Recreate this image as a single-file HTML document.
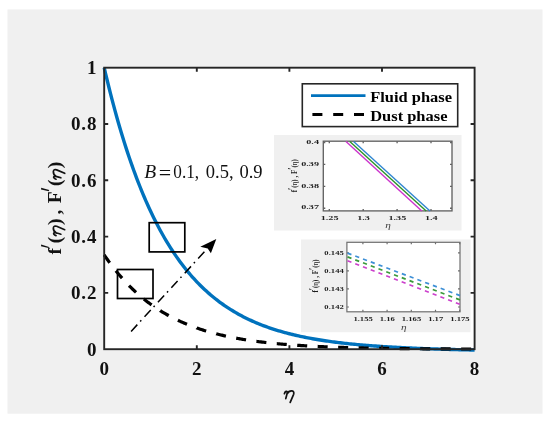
<!DOCTYPE html>
<html><head><meta charset="utf-8"><style>
html,body{margin:0;padding:0;background:#fff;width:550px;height:424px;overflow:hidden}
svg{display:block}
text{font-family:"Liberation Serif", serif;}
</style></head><body>
<svg width="550" height="424" viewBox="0 0 550 424">
<defs><filter id="bl" x="-10%" y="-10%" width="120%" height="120%"><feGaussianBlur stdDeviation="0.25"/></filter></defs>
<rect x="0" y="0" width="550" height="424" fill="#fff"/>
<rect x="7.5" y="9.4" width="535" height="404.3" fill="#f0f0f0"/>
<rect x="104.20" y="67.70" width="370.40" height="281.50" fill="#fff"/>
<!-- inset panels -->
<rect x="274" y="135" width="187.5" height="95.5" fill="#f0f0f0"/>
<rect x="323.3" y="141.2" width="128.7" height="69.7" fill="#fff"/>
<rect x="301" y="239.5" width="169.5" height="92.7" fill="#f0f0f0"/>
<rect x="346.9" y="242.3" width="113.1" height="69.5" fill="#fff"/>
<g stroke="#636363" stroke-width="1.35" fill="none">
<rect x="323.3" y="141.2" width="128.7" height="69.7"/>
<path d="M329.30,210.90 v-2 M329.30,141.20 v2 M363.20,210.90 v-2 M363.20,141.20 v2 M397.10,210.90 v-2 M397.10,141.20 v2 M431.00,210.90 v-2 M431.00,141.20 v2 M323.30,208.20 h2 M452.00,208.20 h-2 M323.30,186.30 h2 M452.00,186.30 h-2 M323.30,164.40 h2 M452.00,164.40 h-2 M323.30,142.50 h2 M452.00,142.50 h-2"/>
</g>
<g stroke="#6e6e6e" stroke-width="1.2" fill="none">
<rect x="346.9" y="242.3" width="113.1" height="69.5"/>
<path d="M362.90,311.80 v-2 M362.90,242.30 v2 M387.10,311.80 v-2 M387.10,242.30 v2 M411.30,311.80 v-2 M411.30,242.30 v2 M435.50,311.80 v-2 M435.50,242.30 v2 M459.70,311.80 v-2 M459.70,242.30 v2 M346.90,307.00 h2 M460.00,307.00 h-2 M346.90,288.93 h2 M460.00,288.93 h-2 M346.90,270.86 h2 M460.00,270.86 h-2 M346.90,252.79 h2 M460.00,252.79 h-2"/>
</g>
<g stroke-width="1.4" fill="none">
<path d="M346,141.5 L421.8,210.9" stroke="#cc33cc"/>
<path d="M349.8,141.5 L426.2,210.9" stroke="#2a922a"/>
<path d="M353.6,141.5 L430,210.9" stroke="#2f86d0"/>
</g>
<g stroke-width="1.7" fill="none" stroke-dasharray="4.2 4.1">
<path d="M347.5,253.1 L460,295.6" stroke="#3d8fd6"/>
<path d="M347.5,256.9 L460,299.9" stroke="#3a9a3a"/>
<path d="M347.5,260.7 L460,304.3" stroke="#cc40cc"/>
</g>
<g filter="url(#bl)">
<g font-weight="bold" font-size="6.8" fill="#1e1e1e">
<text transform="translate(329.60,219.50) scale(1.5,1.0)" text-anchor="middle">1.25</text><text transform="translate(363.50,219.50) scale(1.5,1.0)" text-anchor="middle">1.3</text><text transform="translate(397.40,219.50) scale(1.5,1.0)" text-anchor="middle">1.35</text><text transform="translate(431.30,219.50) scale(1.5,1.0)" text-anchor="middle">1.4</text><text transform="translate(319.00,209.40) scale(1.5,1.0)" text-anchor="end">0.37</text><text transform="translate(319.00,187.50) scale(1.5,1.0)" text-anchor="end">0.38</text><text transform="translate(319.00,165.60) scale(1.5,1.0)" text-anchor="end">0.39</text><text transform="translate(319.00,143.70) scale(1.5,1.0)" text-anchor="end">0.4</text>
<text transform="translate(363.10,321.20) scale(1.27,1.0)" text-anchor="middle">1.155</text><text transform="translate(387.30,321.20) scale(1.27,1.0)" text-anchor="middle">1.16</text><text transform="translate(411.50,321.20) scale(1.27,1.0)" text-anchor="middle">1.165</text><text transform="translate(435.70,321.20) scale(1.27,1.0)" text-anchor="middle">1.17</text><text transform="translate(459.90,321.20) scale(1.27,1.0)" text-anchor="middle">1.175</text><text transform="translate(343.80,309.20) scale(1.27,1.0)" text-anchor="end">0.142</text><text transform="translate(343.80,291.13) scale(1.27,1.0)" text-anchor="end">0.143</text><text transform="translate(343.80,273.06) scale(1.27,1.0)" text-anchor="end">0.144</text><text transform="translate(343.80,254.99) scale(1.27,1.0)" text-anchor="end">0.145</text>
</g>
<g font-style="italic" font-size="7.5" fill="#3a3a3a">
<text transform="translate(388.00,228.00) scale(1.5,1.0)" text-anchor="middle">&#951;</text>
<text transform="translate(403.80,329.50) scale(1.5,1.0)" text-anchor="middle">&#951;</text>
</g>
<g transform="translate(297.00,192.30) rotate(-90) scale(0.93,1.15)" font-size="7.6" font-weight="bold" fill="#1a1a1a"><text x="0" y="0">f<tspan dy="-2" font-size="8.36">&#8242;</tspan><tspan dy="2">(</tspan><tspan font-weight="normal">&#951;</tspan>) , F<tspan dy="-2" font-size="8.36">&#8242;</tspan><tspan dy="2">(</tspan><tspan font-weight="normal">&#951;</tspan>)</text></g>
<g transform="translate(318.20,292.60) rotate(-90) scale(0.93,1.15)" font-size="7.6" font-weight="bold" fill="#1a1a1a"><text x="0" y="0">f<tspan dy="-2" font-size="8.36">&#8242;</tspan><tspan dy="2">(</tspan><tspan font-weight="normal">&#951;</tspan>) , F<tspan dy="-2" font-size="8.36">&#8242;</tspan><tspan dy="2">(</tspan><tspan font-weight="normal">&#951;</tspan>)</text></g>
</g>
<!-- main curves -->
<path d="M104.20,67.70 L105.74,74.28 L107.29,80.70 L108.83,86.97 L110.37,93.10 L111.92,99.09 L113.46,104.94 L115.00,110.66 L116.55,116.24 L118.09,121.69 L119.63,127.02 L121.18,132.22 L122.72,137.30 L124.26,142.26 L125.81,147.11 L127.35,151.85 L128.89,156.48 L130.44,161.00 L131.98,165.41 L133.52,169.72 L135.07,173.94 L136.61,178.05 L138.15,182.07 L139.70,186.00 L141.24,189.83 L142.78,193.58 L144.33,197.23 L145.87,200.81 L147.41,204.30 L148.96,207.71 L150.50,211.04 L152.04,214.29 L153.59,217.46 L155.13,220.57 L156.67,223.60 L158.22,226.56 L159.76,229.45 L161.30,232.27 L162.85,235.03 L164.39,237.72 L165.93,240.36 L167.48,242.92 L169.02,245.43 L170.56,247.89 L172.11,250.28 L173.65,252.62 L175.19,254.90 L176.74,257.13 L178.28,259.31 L179.82,261.44 L181.37,263.52 L182.91,265.55 L184.45,267.53 L186.00,269.46 L187.54,271.35 L189.08,273.20 L190.63,275.00 L192.17,276.76 L193.71,278.48 L195.26,280.16 L196.80,281.81 L198.34,283.41 L199.89,284.97 L201.43,286.50 L202.97,287.99 L204.52,289.45 L206.06,290.87 L207.60,292.26 L209.15,293.62 L210.69,294.95 L212.23,296.24 L213.78,297.51 L215.32,298.74 L216.86,299.95 L218.41,301.13 L219.95,302.28 L221.49,303.40 L223.04,304.50 L224.58,305.57 L226.12,306.62 L227.67,307.64 L229.21,308.64 L230.75,309.61 L232.30,310.56 L233.84,311.49 L235.38,312.40 L236.93,313.29 L238.47,314.15 L240.01,315.00 L241.56,315.82 L243.10,316.63 L244.64,317.42 L246.19,318.19 L247.73,318.94 L249.27,319.67 L250.82,320.39 L252.36,321.09 L253.90,321.77 L255.45,322.44 L256.99,323.09 L258.53,323.73 L260.08,324.35 L261.62,324.96 L263.16,325.55 L264.71,326.13 L266.25,326.69 L267.79,327.25 L269.34,327.79 L270.88,328.31 L272.42,328.83 L273.97,329.33 L275.51,329.82 L277.05,330.30 L278.60,330.77 L280.14,331.23 L281.68,331.67 L283.23,332.11 L284.77,332.54 L286.31,332.95 L287.86,333.36 L289.40,333.76 L290.94,334.14 L292.49,334.52 L294.03,334.89 L295.57,335.26 L297.12,335.61 L298.66,335.95 L300.20,336.29 L301.75,336.62 L303.29,336.94 L304.83,337.26 L306.38,337.56 L307.92,337.86 L309.46,338.16 L311.01,338.44 L312.55,338.72 L314.09,339.00 L315.64,339.26 L317.18,339.52 L318.72,339.78 L320.27,340.03 L321.81,340.27 L323.35,340.51 L324.90,340.74 L326.44,340.97 L327.98,341.19 L329.53,341.41 L331.07,341.62 L332.61,341.83 L334.16,342.03 L335.70,342.23 L337.24,342.42 L338.79,342.61 L340.33,342.79 L341.87,342.97 L343.42,343.15 L344.96,343.32 L346.50,343.49 L348.05,343.66 L349.59,343.82 L351.13,343.98 L352.68,344.13 L354.22,344.28 L355.76,344.43 L357.31,344.57 L358.85,344.71 L360.39,344.85 L361.94,344.99 L363.48,345.12 L365.02,345.25 L366.57,345.37 L368.11,345.50 L369.65,345.62 L371.20,345.74 L372.74,345.85 L374.28,345.96 L375.83,346.07 L377.37,346.18 L378.91,346.29 L380.46,346.39 L382.00,346.49 L383.54,346.59 L385.09,346.69 L386.63,346.79 L388.17,346.88 L389.72,346.97 L391.26,347.06 L392.80,347.15 L394.35,347.24 L395.89,347.32 L397.43,347.40 L398.98,347.48 L400.52,347.56 L402.06,347.64 L403.61,347.72 L405.15,347.79 L406.69,347.86 L408.24,347.94 L409.78,348.01 L411.32,348.07 L412.87,348.14 L414.41,348.21 L415.95,348.27 L417.50,348.34 L419.04,348.40 L420.58,348.46 L422.13,348.52 L423.67,348.58 L425.21,348.64 L426.76,348.70 L428.30,348.75 L429.84,348.81 L431.39,348.86 L432.93,348.91 L434.47,348.97 L436.02,349.02 L437.56,349.07 L439.10,349.12 L440.65,349.17 L442.19,349.21 L443.73,349.26 L445.28,349.31 L446.82,349.35 L448.36,349.40 L449.91,349.44 L451.45,349.48 L452.99,349.53 L454.54,349.57 L456.08,349.61 L457.62,349.65 L459.17,349.69 L460.71,349.73 L462.25,349.77 L463.80,349.81 L465.34,349.85 L466.88,349.88 L468.43,349.92 L469.97,349.96 L471.51,349.99 L473.06,350.03 L474.60,350.06" fill="none" stroke="#0072bd" stroke-width="3.4"/>
<path d="M104.20,254.90 L104.22,254.93 L105.15,256.30 L106.08,257.65 L107.00,258.97 L107.93,260.28 L108.85,261.58 L109.72,262.76 M115.87,270.79 L115.89,270.81 L116.82,271.95 L117.74,273.08 L118.67,274.19 L119.59,275.29 L120.52,276.37 L121.45,277.43 L122.10,278.17 M129.04,285.60 L129.04,285.60 L129.97,286.54 L130.89,287.46 L131.82,288.36 L132.74,289.26 L133.67,290.14 L134.60,291.00 L135.52,291.86 L136.04,292.33 M143.81,299.00 L143.83,299.01 L144.76,299.75 L145.68,300.48 L146.61,301.20 L147.54,301.91 L148.46,302.61 L149.39,303.30 L150.31,303.98 L151.24,304.65 L151.60,304.91 M160.17,310.63 L160.18,310.64 L161.10,311.21 L162.03,311.78 L162.95,312.34 L163.88,312.88 L164.81,313.43 L165.73,313.96 L166.66,314.48 L167.58,315.00 L168.51,315.51 L168.67,315.60 M177.91,320.29 L177.93,320.30 L178.86,320.74 L179.78,321.16 L180.71,321.59 L181.64,322.00 L182.56,322.41 L183.49,322.81 L184.41,323.21 L185.34,323.60 L186.27,323.98 L186.98,324.28 M196.72,327.96 L196.73,327.97 L197.66,328.29 L198.58,328.60 L199.51,328.91 L200.43,329.22 L201.36,329.52 L202.29,329.82 L203.21,330.12 L204.14,330.41 L205.06,330.69 L205.99,330.97 L206.18,331.03 M216.25,333.82 L216.27,333.83 L217.20,334.06 L218.12,334.29 L219.05,334.52 L219.97,334.74 L220.90,334.96 L221.83,335.18 L222.75,335.40 L223.68,335.61 L224.60,335.82 L225.53,336.02 L225.95,336.11 M236.22,338.18 L236.22,338.18 L237.15,338.35 L238.08,338.52 L239.00,338.68 L239.93,338.84 L240.85,339.00 L241.78,339.16 L242.71,339.31 L243.63,339.47 L244.56,339.62 L245.48,339.77 L246.06,339.86 M256.44,341.36 L256.46,341.36 L257.38,341.48 L258.31,341.60 L259.24,341.72 L260.16,341.84 L261.09,341.95 L262.01,342.06 L262.94,342.17 L263.87,342.28 L264.79,342.39 L265.72,342.50 L266.36,342.57 M276.79,343.65 L276.81,343.65 L277.73,343.74 L278.66,343.82 L279.58,343.91 L280.51,343.99 L281.44,344.07 L282.36,344.15 L283.29,344.23 L284.21,344.31 L285.14,344.39 L286.07,344.46 L286.75,344.52 M297.22,345.29 L297.22,345.29 L298.15,345.35 L299.08,345.41 L300.00,345.47 L300.93,345.53 L301.85,345.59 L302.78,345.64 L303.71,345.70 L304.63,345.76 L305.56,345.81 L306.48,345.87 L307.20,345.91 M317.68,346.45 L317.69,346.45 L318.62,346.50 L319.54,346.54 L320.47,346.58 L321.39,346.62 L322.32,346.67 L323.25,346.71 L324.17,346.75 L325.10,346.79 L326.02,346.82 L326.95,346.86 L327.67,346.89 M338.16,347.28 L338.18,347.28 L339.10,347.31 L340.03,347.34 L340.96,347.37 L341.88,347.40 L342.81,347.43 L343.73,347.46 L344.66,347.48 L345.59,347.51 L346.51,347.54 L347.44,347.57 L348.16,347.59 M358.65,347.86 L358.66,347.86 L359.59,347.88 L360.52,347.90 L361.44,347.92 L362.37,347.94 L363.29,347.97 L364.22,347.99 L365.15,348.01 L366.07,348.02 L367.00,348.04 L367.92,348.06 L368.65,348.08 M379.15,348.27 L379.15,348.27 L380.08,348.28 L381.00,348.30 L381.93,348.31 L382.86,348.33 L383.78,348.34 L384.71,348.36 L385.63,348.37 L386.56,348.38 L387.49,348.40 L388.41,348.41 L389.15,348.42 M399.65,348.55 L399.66,348.55 L400.59,348.57 L401.52,348.58 L402.44,348.59 L403.37,348.60 L404.29,348.61 L405.22,348.62 L406.15,348.63 L407.07,348.64 L408.00,348.64 L408.92,348.65 L409.64,348.66 M420.14,348.75 L420.15,348.75 L421.08,348.76 L422.00,348.77 L422.93,348.78 L423.86,348.78 L424.78,348.79 L425.71,348.80 L426.63,348.80 L427.56,348.81 L428.49,348.82 L429.41,348.82 L430.14,348.83 M440.64,348.89 L440.66,348.89 L441.59,348.90 L442.51,348.90 L443.44,348.91 L444.37,348.91 L445.29,348.92 L446.22,348.92 L447.14,348.93 L448.07,348.93 L449.00,348.94 L449.92,348.94 L450.64,348.94 M461.14,348.99 L461.15,348.99 L462.08,348.99 L463.00,349.00 L463.93,349.00 L464.85,349.00 L465.78,349.01 L466.71,349.01 L467.63,349.01 L468.56,349.02 L469.48,349.02 L470.41,349.02 L471.14,349.02" fill="none" stroke="#000" stroke-width="3.2"/>
<!-- boxes -->
<g fill="none" stroke="#000" stroke-width="1.7">
<rect x="149.2" y="222.7" width="35.6" height="29.2"/>
<rect x="117.5" y="269.5" width="35.5" height="29"/>
</g>
<!-- arrow -->
<path d="M131.1,331.4 L204.47,251.74" stroke="#000" stroke-width="1.5" fill="none" stroke-dasharray="9.2 4.2 1.6 4.8"/>
<path d="M216.3,238.9 L200.3,246.8 L207.7,248.6 L210.9,253.3 Z" fill="#000"/>
<!-- axes -->
<g stroke="#262626" stroke-width="1.9" fill="none">
<rect x="104.20" y="67.70" width="370.40" height="281.50"/>
<path d="M196.80,349.20 v-4 M196.80,67.70 v4 M289.40,349.20 v-4 M289.40,67.70 v4 M382.00,349.20 v-4 M382.00,67.70 v4 M104.20,292.90 h4 M474.60,292.90 h-4 M104.20,236.60 h4 M474.60,236.60 h-4 M104.20,180.30 h4 M474.60,180.30 h-4 M104.20,124.00 h4 M474.60,124.00 h-4"/>
</g>
<!-- legend -->
<rect x="302.3" y="83.8" width="155.4" height="42.8" fill="#fff" stroke="#262626" stroke-width="1.6"/>
<path d="M311,95.7 H365.5" stroke="#0072bd" stroke-width="2.8"/>
<path d="M312.4,114.4 H322.4 M333.2,114.4 H343.2 M354,114.4 H364" stroke="#000" stroke-width="3"/>
<g font-weight="bold" font-size="14.2" fill="#000">
<text transform="translate(370.2,101.8) scale(1.16,1)">Fluid phase</text>
<text transform="translate(370.2,120.7) scale(1.16,1)">Dust phase</text>
</g>
<!-- tick labels -->
<g font-weight="bold" font-size="19" fill="#111" letter-spacing="0.9">
<text x="97.4" y="355.50" text-anchor="end">0</text><text x="97.4" y="299.20" text-anchor="end">0.2</text><text x="97.4" y="242.90" text-anchor="end">0.4</text><text x="97.4" y="186.60" text-anchor="end">0.6</text><text x="97.4" y="130.30" text-anchor="end">0.8</text><text x="97.4" y="74.00" text-anchor="end">1</text>
</g>
<g font-weight="bold" font-size="19" fill="#111">
<text x="104.20" y="374.5" text-anchor="middle">0</text><text x="196.80" y="374.5" text-anchor="middle">2</text><text x="289.40" y="374.5" text-anchor="middle">4</text><text x="382.00" y="374.5" text-anchor="middle">6</text><text x="474.60" y="374.5" text-anchor="middle">8</text>
</g>
<path transform="translate(284.40,398.30)  scale(0.92,0.94)" d="M0,-4.9 C0.6,-7 2.2,-8.2 3,-6.9 C3.3,-6 2.3,-2.4 1.5,0.3 M2.8,-4.6 C4.2,-7.2 6.3,-7.9 8.2,-7.8 C10.2,-7.6 10.6,-6.2 10,-4.2 L6.3,4.4" fill="none" stroke="#111" stroke-width="1.85" stroke-linecap="round"/>
<g transform="translate(60.6,255.0) rotate(-90)" font-size="19.5" font-weight="bold" fill="#111">
<text x="0.64" y="0">f</text>
<text x="11.7" y="0">(</text>
<text x="30.0" y="0">)</text>
<text x="40.6" y="0">,</text>
<text x="51.8" y="0">F</text>
<text x="69.0" y="0">(</text>
<text x="86.7" y="0">)</text>
<path transform="translate(19.40,0.00)  scale(0.93,0.93)" d="M0,-4.9 C0.6,-7 2.2,-8.2 3,-6.9 C3.3,-6 2.3,-2.4 1.5,0.3 M2.8,-4.6 C4.2,-7.2 6.3,-7.9 8.2,-7.8 C10.2,-7.6 10.6,-6.2 10,-4.2 L6.3,4.4" fill="none" stroke="#111" stroke-width="1.83" stroke-linecap="round"/>
<path transform="translate(75.80,0.00)  scale(0.93,0.93)" d="M0,-4.9 C0.6,-7 2.2,-8.2 3,-6.9 C3.3,-6 2.3,-2.4 1.5,0.3 M2.8,-4.6 C4.2,-7.2 6.3,-7.9 8.2,-7.8 C10.2,-7.6 10.6,-6.2 10,-4.2 L6.3,4.4" fill="none" stroke="#111" stroke-width="1.83" stroke-linecap="round"/>
</g>
<path d="M41.2,244.6 L49,246.9 L48.6,248.0 L41.0,246.2 Z" fill="#111"/>
<path d="M41.2,187.8 L49.2,190.1 L48.8,191.2 L41.0,189.4 Z" fill="#111"/>

<!-- annotation -->
<g font-size="18.5" fill="#111">
<text x="144.2" y="178.2" font-size="19.5" font-style="italic">B</text>
<text x="158.8" y="180.4" font-size="22">=</text>
<text transform="translate(173.3,178.2) scale(0.93,1)">0.1,</text>
<text x="205.75" y="178.2">0.5,</text>
<text x="239.45" y="178.2">0.9</text>
</g>
</svg>
</body></html>
